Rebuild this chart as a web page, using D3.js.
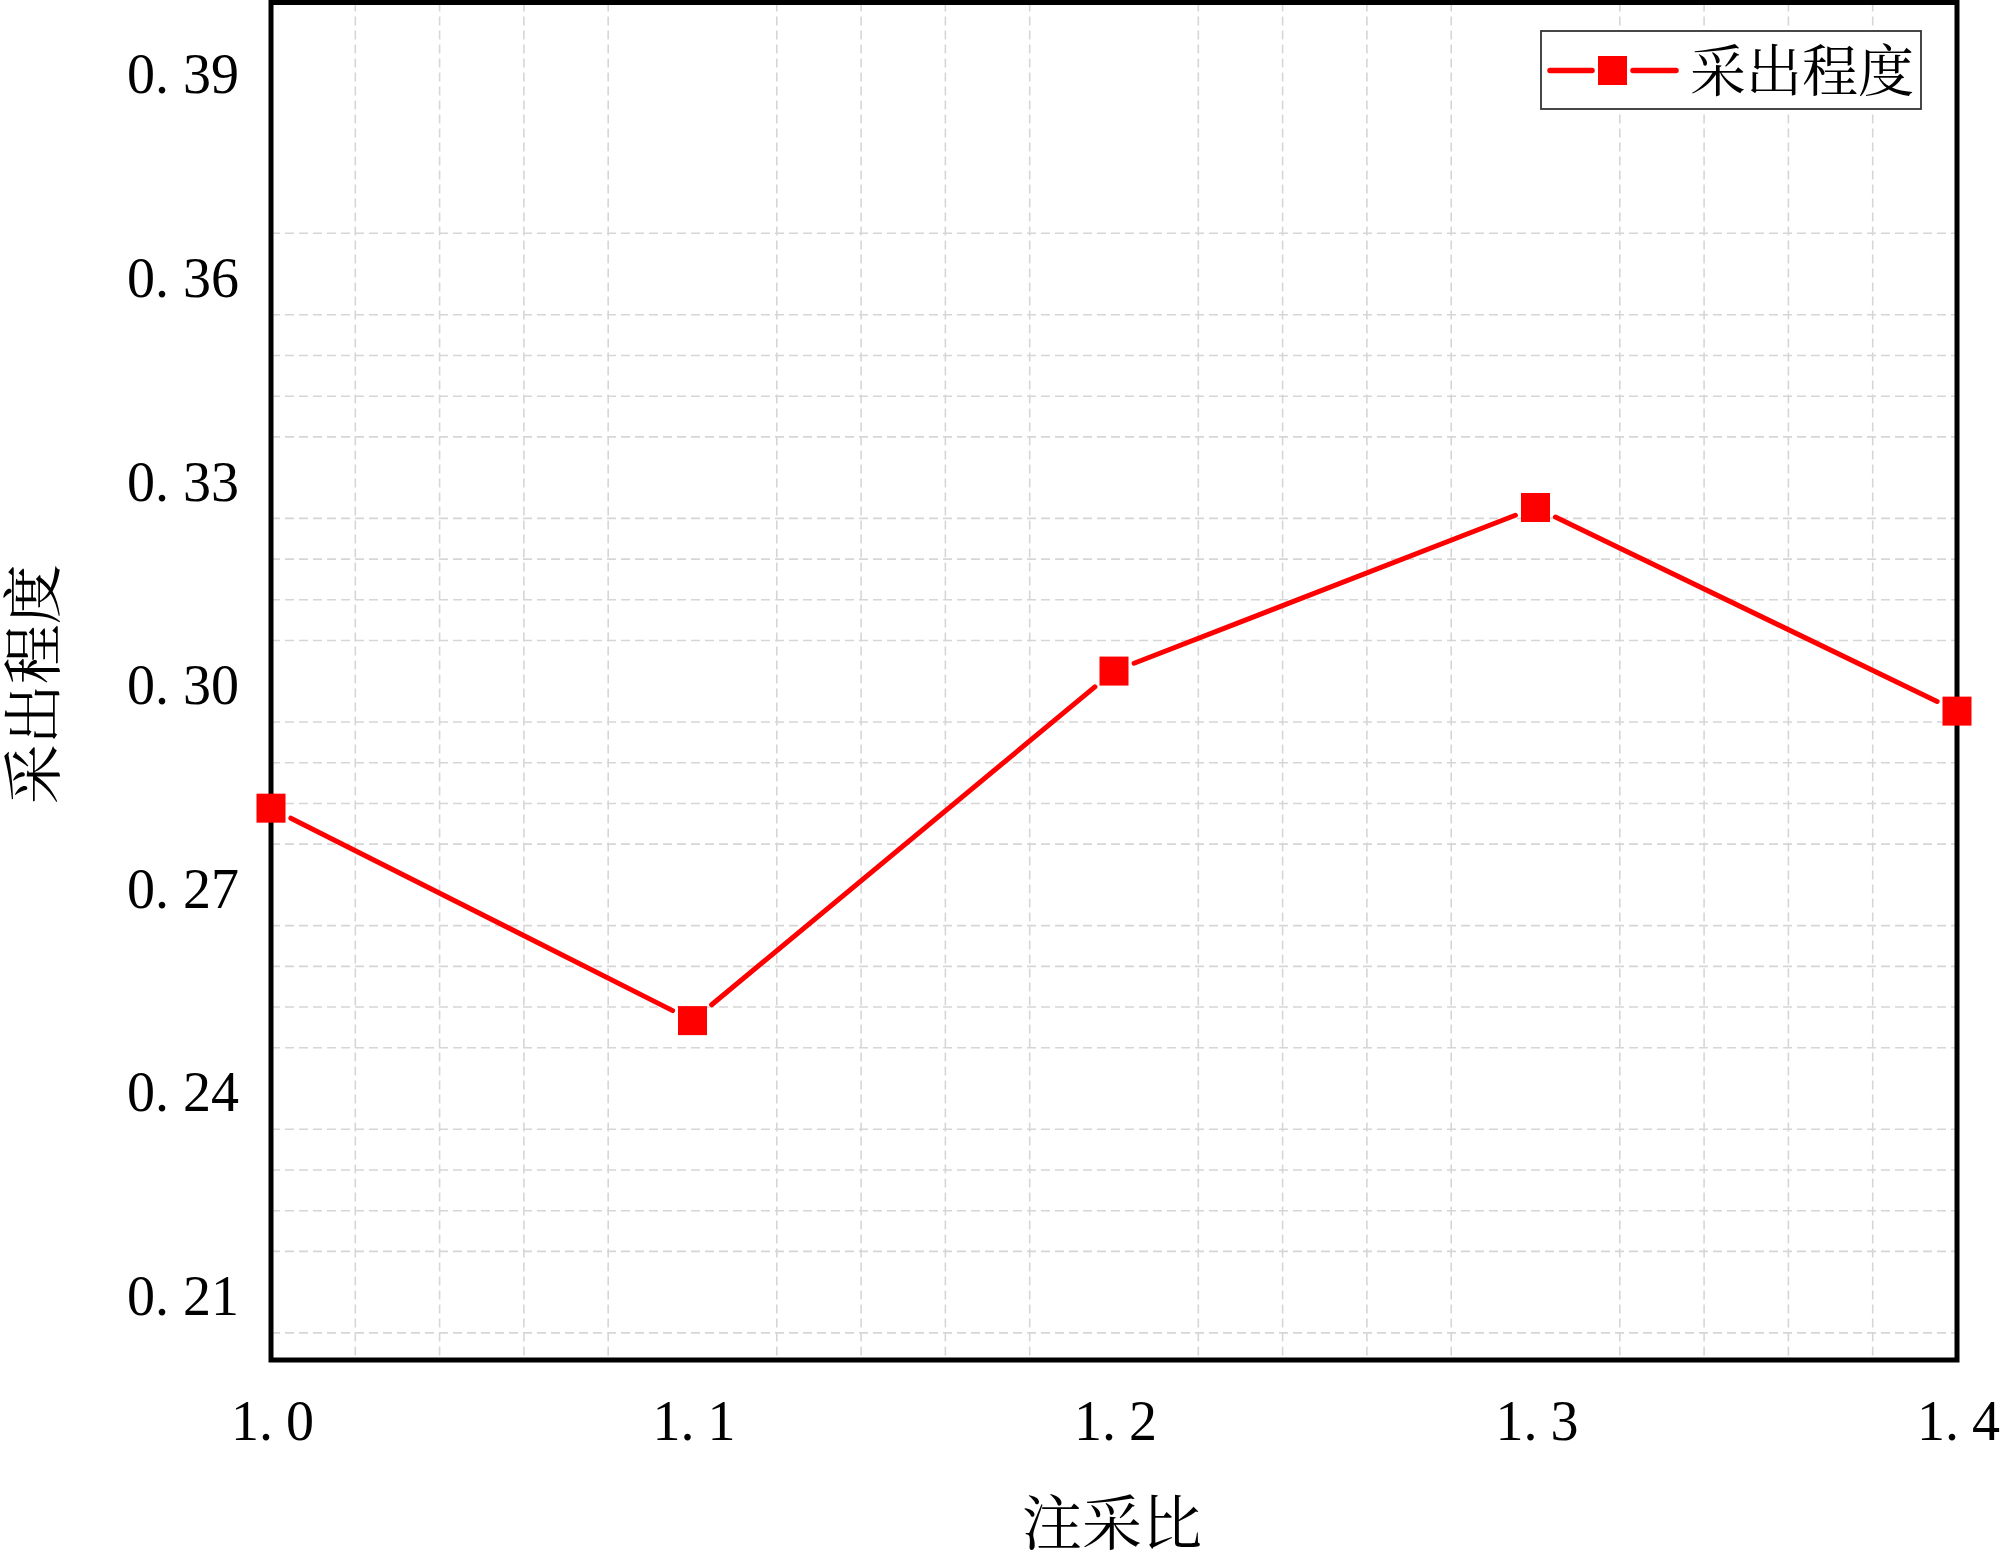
<!DOCTYPE html>
<html>
<head>
<meta charset="utf-8">
<script src="https://cdn.jsdelivr.net/npm/d3@7"></script>
<style>
  html, body { margin: 0; padding: 0; background: #fff; }
  svg { display: block; }
</style>
</head>
<body>
<svg id="chart" width="2000" height="1558"></svg>
<script>
// ---- data ----
const injectionRatio = [1.0, 1.1, 1.2, 1.3, 1.4];          // 注采比
const recoveryDegree = [0.2813, 0.2500, 0.3015, 0.3256, 0.2956]; // 采出程度
const seriesName = "采出程度";
const xTickValues = [1.0, 1.1, 1.2, 1.3, 1.4];
const yTickValues = [0.21, 0.24, 0.27, 0.30, 0.33, 0.36, 0.39];
const xTitle = "注采比";
const yTitle = "采出程度";

// ---- layout ----
const W = 2000, H = 1558;
const plot = { left: 271, right: 1957, top: 2.5, bottom: 1360 };
const numFont = "'Liberation Serif', 'DejaVu Serif', serif";
const cjkFont = "'Noto Serif CJK SC', 'Noto Sans CJK SC', sans-serif";
const red = "#ff0000";

const svg = d3.select("#chart");

const x = d3.scaleLinear().domain([1.0, 1.4]).range([plot.left, plot.right]);
const y = d3.scaleLinear().domain([0.20, 0.40]).range([plot.bottom, plot.top]);

// ---- minor grid (major grid hidden, as in reference) ----
const xMinor = d3.range(0, 20).map(i => 1.0 + i * 0.02)
  .filter((v, i) => i % 5 !== 0);
const yMinor = d3.range(0, 28).map(i => 0.204 + i * 0.006)
  .filter(v => Math.abs(((v - 0.21) / 0.03) - Math.round((v - 0.21) / 0.03)) > 0.01)
  .filter(v => v < 0.367);

const grid = svg.append("g").attr("class", "grid")
  .attr("stroke", "#d6d6d6").attr("stroke-width", 1.6)
  .attr("stroke-dasharray", "9,5").attr("fill", "none");

grid.selectAll("line.v").data(xMinor).join("line").attr("class", "v")
  .attr("x1", d => x(d)).attr("x2", d => x(d))
  .attr("y1", plot.top).attr("y2", plot.bottom);
grid.selectAll("line.h").data(yMinor).join("line").attr("class", "h")
  .attr("x1", plot.left).attr("x2", plot.right)
  .attr("y1", d => y(d)).attr("y2", d => y(d));

// ---- axes (labels only, no tick marks) ----
function splitLabel(sel, gap) {
  sel.each(function() {
    const t = d3.select(this);
    const s = t.text();
    const i = s.indexOf(".");
    t.text(null);
    t.append("tspan").text(s.slice(0, i + 1));
    t.append("tspan").attr("dx", gap).text(s.slice(i + 1));
  });
}

const yAxis = svg.append("g")
  .attr("transform", `translate(${plot.left},0)`)
  .call(d3.axisLeft(y).tickValues(yTickValues).tickFormat(d3.format(".2f")).tickSize(0).tickPadding(32));
yAxis.select(".domain").remove();
yAxis.selectAll("text")
  .attr("font-family", numFont).attr("font-size", 56).attr("fill", "#000")
  .attr("dy", "0.40em")
  .call(splitLabel, 14);

const xAxis = svg.append("g")
  .attr("transform", `translate(0,${plot.bottom})`)
  .call(d3.axisBottom(x).tickValues(xTickValues).tickFormat(d3.format(".1f")).tickSize(0).tickPadding(40));
xAxis.select(".domain").remove();
xAxis.selectAll("text")
  .attr("font-family", numFont).attr("font-size", 56).attr("fill", "#000")
  .attr("dx", 1)
  .call(splitLabel, 13);

// ---- frame ----
svg.append("rect")
  .attr("x", plot.left).attr("y", plot.top)
  .attr("width", plot.right - plot.left).attr("height", plot.bottom - plot.top)
  .attr("fill", "none").attr("stroke", "#000").attr("stroke-width", 5);

// ---- series line (with gaps at markers) ----
const pts = injectionRatio.map((v, i) => [x(v), y(recoveryDegree[i])]);
const ms = 29;      // marker size
const segs = [];
for (let i = 0; i < pts.length - 1; i++) {
  const [x0, y0] = pts[i], [x1, y1] = pts[i + 1];
  const dx = x1 - x0, dy = y1 - y0, L = Math.hypot(dx, dy);
  const ux = dx / L, uy = dy / L;
  const r0 = (ms / 2) / Math.max(Math.abs(ux), Math.abs(uy)) + 6;
  segs.push([x0 + ux * r0, y0 + uy * r0, x1 - ux * r0, y1 - uy * r0]);
}
svg.append("g").selectAll("line").data(segs).join("line")
  .attr("x1", d => d[0]).attr("y1", d => d[1])
  .attr("x2", d => d[2]).attr("y2", d => d[3])
  .attr("stroke", red).attr("stroke-width", 5).attr("stroke-linecap", "round");

svg.append("g").selectAll("rect").data(injectionRatio).join("rect")
  .attr("x", (d) => x(d) - ms / 2)
  .attr("y", (d, i) => y(recoveryDegree[i]) - ms / 2)
  .attr("width", ms).attr("height", ms)
  .attr("fill", red);

// ---- legend ----
const lg = svg.append("g");
lg.append("rect")
  .attr("x", 1541).attr("y", 31).attr("width", 380).attr("height", 78)
  .attr("fill", "#fff").attr("stroke", "#333").attr("stroke-width", 1.8);
lg.append("line").attr("x1", 1550).attr("x2", 1592).attr("y1", 70.5).attr("y2", 70.5)
  .attr("stroke", red).attr("stroke-width", 5.5).attr("stroke-linecap", "round");
lg.append("line").attr("x1", 1633).attr("x2", 1676).attr("y1", 70.5).attr("y2", 70.5)
  .attr("stroke", red).attr("stroke-width", 5.5).attr("stroke-linecap", "round");
lg.append("rect").attr("x", 1598).attr("y", 56).attr("width", ms).attr("height", ms).attr("fill", red);
lg.append("text").attr("x", 1690).attr("y", 70.5).attr("dy", "0.36em")
  .attr("font-family", cjkFont).attr("font-size", 56).attr("fill", "#000")
  .text(seriesName);

// ---- axis titles ----
svg.append("text")
  .attr("x", (plot.left + plot.right) / 2 - 2).attr("y", 1523).attr("dy", "0.36em")
  .attr("text-anchor", "middle")
  .attr("font-family", cjkFont).attr("font-size", 60).attr("fill", "#000")
  .text(xTitle);

svg.append("text")
  .attr("transform", `translate(33,${(plot.top + plot.bottom) / 2 + 3}) rotate(-90)`)
  .attr("dy", "0.36em")
  .attr("text-anchor", "middle")
  .attr("font-family", cjkFont).attr("font-size", 60).attr("fill", "#000")
  .text(yTitle);
</script>
</body>
</html>
